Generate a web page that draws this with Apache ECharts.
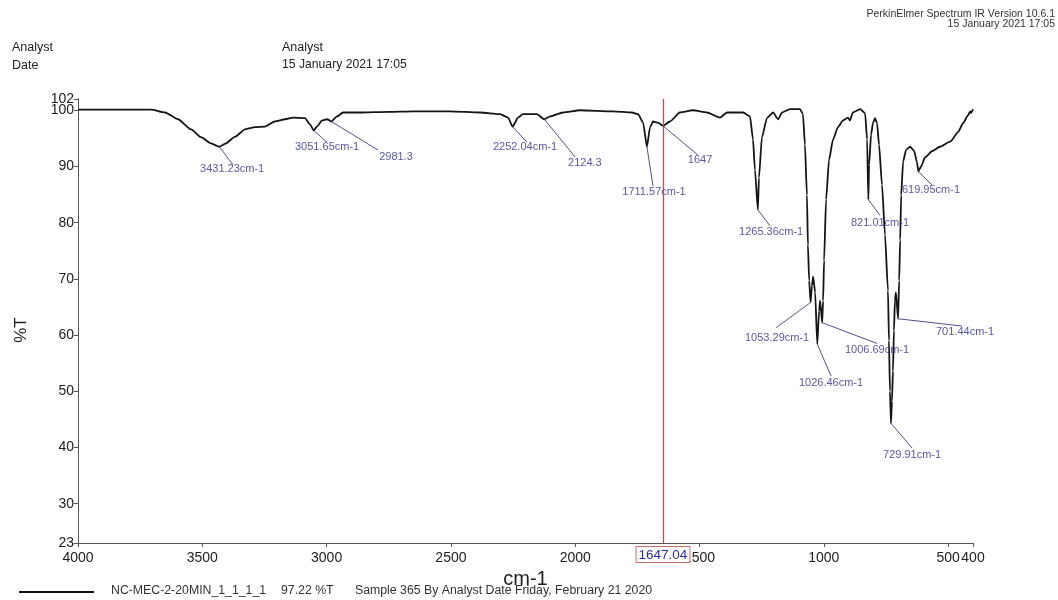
<!DOCTYPE html>
<html>
<head>
<meta charset="utf-8">
<title>IR spectrum</title>
<script src="https://cdn.jsdelivr.net/npm/echarts@6/dist/echarts.min.js"></script>
<style>
  html, body { margin: 0; padding: 0; background: #fff; }
  #chart { width: 1058px; height: 600px; }
</style>
</head>
<body>
<div id="chart"></div>
<script>
// Wavenumber (cm-1) and transmittance (%T) of the recorded spectrum
const waveNumber = [
  4000, 3900, 3800, 3706, 3650, 3598, 3545, 3505, 3465, 3431.23, 3405, 3368, 3328, 3288, 3248, 3208,
  3167, 3135, 3087, 3067, 3051.65, 3039, 3018, 2998, 2981.3, 2958, 2934, 2854, 2752, 2652, 2504, 2383,
  2302, 2270, 2252.04, 2230, 2210, 2154, 2124.3, 2101, 2049, 1981, 1848, 1772, 1747, 1727, 1711.57,
  1699, 1687, 1667, 1647, 1619, 1579, 1526, 1470, 1418, 1389, 1325, 1297, 1285, 1277, 1265.36, 1261,
  1249, 1228, 1204, 1184, 1168, 1136, 1096, 1084, 1076, 1068, 1064, 1059, 1053.29, 1048, 1043, 1035,
  1026.46, 1019, 1015, 1006.69, 1003, 999, 991, 979, 963, 943, 923, 903, 895, 883, 854, 834, 826,
  821.01, 818, 810, 802, 794, 786, 778, 766, 754, 742, 738, 734, 729.91, 726, 722, 718, 714, 710,
  701.44, 697, 693, 689, 681, 669, 653, 637, 625, 619.95, 609, 593, 565, 533, 492, 460, 440, 420,
  412, 408, 400
];
const transmittance = [
  100.1, 100.1, 100.1, 100.1, 99.6, 98.4, 96.6, 95.2, 94.1, 93.5, 94.1, 95.3, 96.6, 97.0, 97.1, 98.0,
  98.4, 98.7, 98.6, 97.5, 96.4, 97.1, 98.2, 98.4, 98.0, 98.9, 99.6, 99.6, 99.7, 99.8, 99.8, 99.6,
  99.3, 98.7, 97.1, 98.7, 99.3, 99.3, 98.4, 98.9, 99.6, 100.0, 99.8, 99.6, 99.3, 97.8, 93.5,
  97.0, 98.0, 97.8, 97.22, 98.0, 99.6, 100.0, 99.6, 98.7, 99.6, 99.6, 98.9, 94.8, 89.4, 82.3, 88.0,
  95.2, 98.7, 99.6, 98.4, 99.6, 100.2, 100.2, 99.3, 93.9, 84.9, 76.0, 69.7, 65.8, 68.8, 70.4, 67.6,
  58.4, 64.3, 66.1, 62.2, 66.1, 73.3, 84.1, 91.2, 94.8, 97.0, 98.2, 98.7, 98.2, 99.6, 100.2, 99.5, 94.8,
  84.1, 90.3, 95.7, 97.8, 98.6, 97.7, 93.9, 86.7, 77.8, 67.9, 59.0, 50.0, 44.3, 48.2, 53.6, 60.8, 66.1, 67.6,
  62.9, 69.7, 76.9, 84.9, 90.9, 93.0, 93.5, 92.8, 90.7, 89.1, 90.0, 91.6, 92.7, 93.5, 94.4, 96.1, 97.7, 99.1,
  99.8, 99.5, 100.2
];

// Picked peaks: position, %T and the text printed beside each one
const peakWave = [3431.23, 3051.65, 2981.3, 2252.04, 2124.3, 1711.57, 1647, 1265.36, 1053.29, 1026.46, 1006.69, 821.01, 729.91, 701.44, 619.95];
const peakT = [93.5, 96.4, 98.0, 97.1, 98.4, 93.5, 97.22, 82.3, 65.8, 58.4, 62.2, 84.1, 44.3, 62.9, 89.1];
const peakText = ['3431.23cm-1', '3051.65cm-1', '2981.3', '2252.04cm-1', '2124.3', '1711.57cm-1', '1647', '1265.36cm-1', '1053.29cm-1', '1026.46cm-1', '1006.69cm-1', '821.01cm-1', '729.91cm-1', '701.44cm-1', '619.95cm-1'];
// Where each peak caption sits (data units) and where its leader line ends
const captionWave = [3380, 2998, 2721, 2202, 1961, 1683, 1498, 1212, 1188, 971, 786, 774, 645, 432, 569];
const captionT = [89.5, 93.45, 91.7, 93.45, 90.6, 85.4, 91.1, 78.3, 59.5, 51.5, 57.3, 79.9, 38.6, 60.5, 85.8];
const leaderWave = [3377, 2998, 2793, 2194, 2001, 1687, 1506, 1216, 1192, 971, 786, 774, 645, 444, 565];
const leaderT = [90.3, 94.3, 92.9, 94.3, 91.7, 86.5, 92.0, 79.4, 61.3, 52.7, 58.5, 81.3, 39.9, 61.6, 86.7];

// Axis tick positions (100 sits close under the 102 top and gets its own axis)
const xTicks = [4000, 3500, 3000, 2500, 2000, 1500, 1000, 500, 400];
const yTicks = [23, 30, 40, 50, 60, 70, 80, 90, 102];
const yTicksUpper = [100];

// Cursor position
const cursorWave = 1647.04;

const spectrum = waveNumber.map((w, i) => [w, transmittance[i]]);
const leaders = peakWave.map((w, i) => [
  { coord: [w, peakT[i]] },
  { coord: [leaderWave[i], leaderT[i]] }
]);
const captions = peakText.map((t, i) => ({ value: [captionWave[i], captionT[i]], name: t }));

const chart = echarts.init(document.getElementById('chart'), null, { renderer: 'canvas' });
const FONT = 'Liberation Sans, Arial, sans-serif';
const INK = '#2c2c96';
const plain = v => String(v);

function yAxisWith(ticks, extra, labelExtra) {
  return Object.assign({
    type: 'value',
    min: 23,
    max: 102,
    position: 'left',
    axisLine: { show: true, lineStyle: { color: '#555', width: 1 } },
    axisTick: { show: true, length: 4, customValues: ticks, lineStyle: { color: '#555' } },
    axisLabel: Object.assign({
      customValues: ticks,
      formatter: plain,
      showMinLabel: true,
      showMaxLabel: true,
      hideOverlap: false,
      margin: 4,
      fontSize: 14,
      color: '#222',
      fontFamily: FONT
    }, labelExtra || {}),
    splitLine: { show: false }
  }, extra);
}

chart.setOption({
  animation: false,
  backgroundColor: '#ffffff',
  textStyle: { fontFamily: FONT },
  grid: { left: 78, right: 85, top: 99, bottom: 57, containLabel: false },
  xAxis: {
    type: 'value',
    inverse: true,
    min: 400,
    max: 4000,
    name: 'cm-1',
    nameLocation: 'middle',
    nameGap: 24,
    nameTextStyle: { fontSize: 20, color: '#222', fontFamily: FONT },
    axisLine: { show: true, onZero: false, lineStyle: { color: '#555', width: 1 } },
    axisTick: { show: true, length: 4, customValues: xTicks, lineStyle: { color: '#555' } },
    axisLabel: {
      customValues: xTicks,
      formatter: plain,
      showMinLabel: true,
      showMaxLabel: true,
      hideOverlap: false,
      margin: 8,
      fontSize: 14,
      color: '#222',
      fontFamily: FONT
    },
    splitLine: { show: false }
  },
  yAxis: [
    yAxisWith(yTicks, {
      name: '%T',
      nameLocation: 'middle',
      nameGap: 48,
      nameRotate: 90,
      nameTextStyle: { fontSize: 17, color: '#222', fontFamily: FONT, padding: [0, 0, 0, -18] }
    }),
    yAxisWith(yTicksUpper, { offset: 0 }, { padding: [5, 0, 0, 0] })
  ],
  graphic: [
    { type: 'text', left: 12, top: 41, style: { text: 'Analyst', fontSize: 12.5, fill: '#222', fontFamily: FONT } },
    { type: 'text', left: 12, top: 59, style: { text: 'Date', fontSize: 12.5, fill: '#222', fontFamily: FONT } },
    { type: 'text', left: 282, top: 41, style: { text: 'Analyst', fontSize: 12.5, fill: '#222', fontFamily: FONT } },
    { type: 'text', left: 282, top: 59, style: { text: '15 January 2021 17:05', fontSize: 12.2, fill: '#222', fontFamily: FONT } },
    { type: 'text', right: 3, top: 9, style: { text: 'PerkinElmer Spectrum IR Version 10.6.1', fontSize: 10.5, fill: '#333', fontFamily: FONT, align: 'right' } },
    { type: 'text', right: 3, top: 19, style: { text: '15 January 2021 17:05', fontSize: 10.5, fill: '#333', fontFamily: FONT, align: 'right' } },
    { type: 'line', shape: { x1: 19, y1: 592, x2: 94, y2: 592 }, style: { stroke: '#111', lineWidth: 2 } },
    { type: 'text', left: 111, top: 585, style: { text: 'NC-MEC-2-20MIN_1_1_1_1', fontSize: 12.3, fill: '#333', fontFamily: FONT } },
    { type: 'text', left: 281, top: 585, style: { text: '97.22 %T', fontSize: 12.3, fill: '#333', fontFamily: FONT } },
    { type: 'text', left: 355, top: 585, style: { text: 'Sample 365 By Analyst Date Friday, February 21 2020', fontSize: 12.3, fill: '#333', fontFamily: FONT } }
  ],
  series: [
    {
      name: 'NC-MEC-2-20MIN_1_1_1_1',
      type: 'line',
      data: spectrum,
      showSymbol: false,
      smooth: 0.2,
      smoothMonotone: 'x',
      lineStyle: { color: '#151515', width: 1.8 },
      z: 3,
      markLine: {
        silent: true,
        symbol: 'none',
        animation: false,
        lineStyle: { color: '#c0504d', width: 1.3, type: 'solid' },
        label: {
          show: true,
          position: 'start',
          distance: 4,
          formatter: '{c}',
          color: '#2b2bb0',
          fontSize: 13.5,
          fontFamily: FONT,
          backgroundColor: '#ffffff',
          borderColor: '#d46a6a',
          borderWidth: 1,
          padding: [1, 2, 0, 2]
        },
        data: [{ xAxis: cursorWave }]
      }
    },
    {
      name: 'leaders',
      type: 'line',
      data: [],
      z: 2,
      markLine: {
        silent: true,
        symbol: 'none',
        animation: false,
        lineStyle: { color: '#51518f', width: 1, type: 'solid' },
        label: { show: false },
        data: leaders
      }
    },
    {
      name: 'captions',
      type: 'scatter',
      data: captions,
      symbolSize: 0,
      silent: true,
      z: 4,
      label: {
        show: true,
        position: 'inside',
        formatter: p => p.name,
        color: INK,
        fontSize: 11,
        fontFamily: FONT
      }
    }
  ]
});
</script>
</body>
</html>
